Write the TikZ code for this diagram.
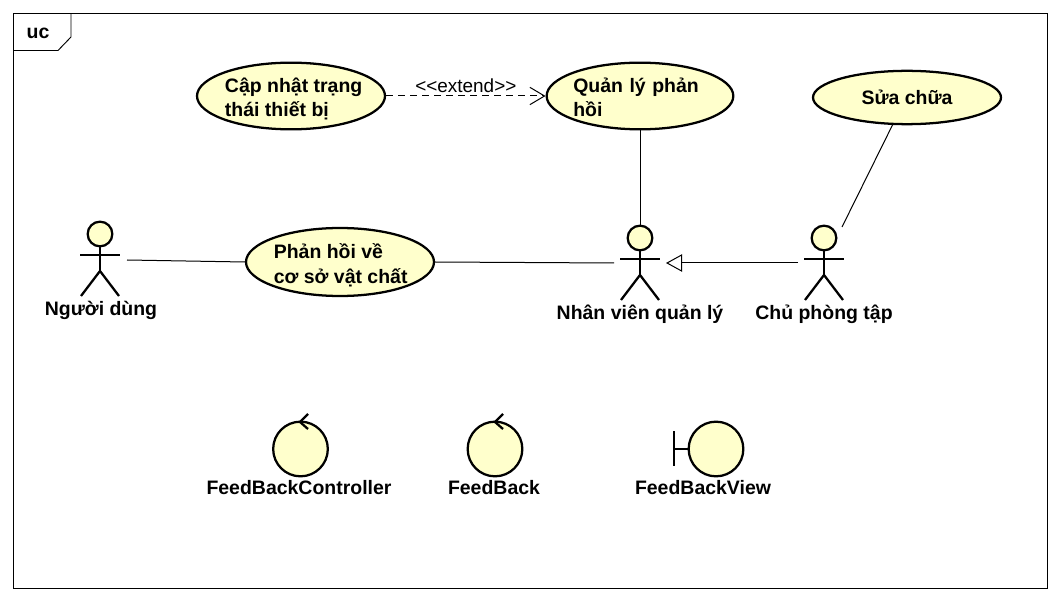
\documentclass[tikz,border=0pt]{standalone}
\usepackage{fontspec}
\setmainfont{Liberation Sans}
\usetikzlibrary{shapes.geometric,arrows.meta}
\definecolor{ucfill}{HTML}{FFFFCC}
\tikzset{
    usecase/.style={draw,ellipse,fill=ucfill,line width=1.7pt,inner sep=-5pt,font=\fontsize{14.6}{18}\selectfont\bfseries,align=left},
    head/.style={draw,circle,fill=ucfill,line width=1.7pt,inner sep=0pt,minimum size=18.5pt},
    limb/.style={line width=1.7pt},
    lbl/.style={font=\fontsize{14.6}{18}\selectfont\bfseries,inner sep=0pt},
    assoc/.style={line width=0.75pt},
}
\newcommand{\lift}{\rule{0pt}{16pt}}
% stick figure below its head node: #1 head, #2 x, #3 y of the head centre
\newcommand{\stick}[3]{
    \node[head] (#1) at (#2,#3) {};
    \draw[limb] (#1.south) -- ++(0,21) coordinate (#1c) (#2-20,#3+21) -- (#2+20,#3+21);
    \draw[limb] (#2-19,#3+62) -- (#2,#3+37) -- (#2+19,#3+62);
    \draw[limb] (#1.south) -- (#2,#3+37);
}
\begin{document}
\begin{tikzpicture}[x=0.75pt,y=-0.75pt]
    \useasboundingbox (0,0) rectangle (1060,602);
    \node[inner sep=0pt] (corner) at (13.5,13.5) {};
    \node[inner sep=0pt] (far) at (1047.5,588.5) {};
    \draw[line width=0.7pt] (corner) rectangle (far);
    \draw[line width=0.7pt] (13.5,50.5) -- (58,50.5) -- (71,37) -- (71,13.5);
    \node[lbl] (uc) at (38,33) {uc};

    \node[usecase,minimum width=141pt,minimum height=50pt] (capnhat) at (291,96) {\lift\hspace*{4pt}Cập nhật trạng\\\hspace*{4pt}thái thiết bị};
    \node[usecase,minimum width=140pt,minimum height=50pt,text width=100pt] (quanly) at (640,96) {\rule{0pt}{13pt}Quản lý phản\\hồi};
    \node[usecase,minimum width=141pt,minimum height=40pt] (suachua) at (907,97.5) {Sửa chữa};
    \node[usecase,minimum width=141pt,minimum height=51pt] (phanhoi) at (340,262) {\lift\hspace*{1pt}Phản hồi về\\[1pt]\hspace*{1pt}cơ sở vật chất};

    \stick{nguoidung}{100}{234}
    \stick{nhanvien}{640}{238}
    \stick{chuphong}{824}{238}
    \node[lbl] (nguoidunglbl) at (101,310) {Người dùng};
    \node[lbl] (nhanvienlbl) at (640,314) {Nhân viên quản lý};
    \node[lbl] (chuphonglbl) at (824,314) {Chủ phòng tập};

    \coordinate (nguoidungR) at (127,260);
    \coordinate (nhanvienL) at (614,263);
    \coordinate (nhanvienR) at (666,263);
    \coordinate (chuphongL) at (798,263);
    \coordinate (chuphongT) at (842,227);
    \coordinate (suachuaB) at (893,124);

    \draw[assoc] (nguoidungR) to (phanhoi.west);
    \draw[assoc] (phanhoi.east) to (nhanvienL);
    \draw[assoc] (quanly.south) to (nhanvien.north);
    \draw[assoc] (suachuaB) to (chuphongT);
    \draw[assoc,-{Triangle[open,fill=white,length=12pt,width=13pt]}] (chuphongL) to (nhanvienR);
    \draw[assoc,dash pattern=on 5pt off 4pt,-{Straight Barb[length=11pt,width=13pt]}] (capnhat.east) to node[above=-1pt,font=\fontsize{14.2}{16}\selectfont] {<{}<extend>{}>} (quanly.west);

    \node[head,minimum size=41pt] (controller) at (300.5,449) {};
    \draw[limb] (308,414) -- (300,422) -- (308,429);
    \node[head,minimum size=41pt] (feedback) at (495,449) {};
    \draw[limb] (503,414) -- (495,422) -- (503,429);
    \node[head,minimum size=41pt] (view) at (716,449) {};
    \draw[limb] (674,431) -- (674,466);
    \draw[limb] (674,449) -- (view.west);
    \node[lbl] (controllerlbl) at (299,488) {FeedBackController};
    \node[lbl] (feedbacklbl) at (494,488) {FeedBack};
    \node[lbl] (viewlbl) at (703,488) {FeedBackView};
\end{tikzpicture}
\end{document}
